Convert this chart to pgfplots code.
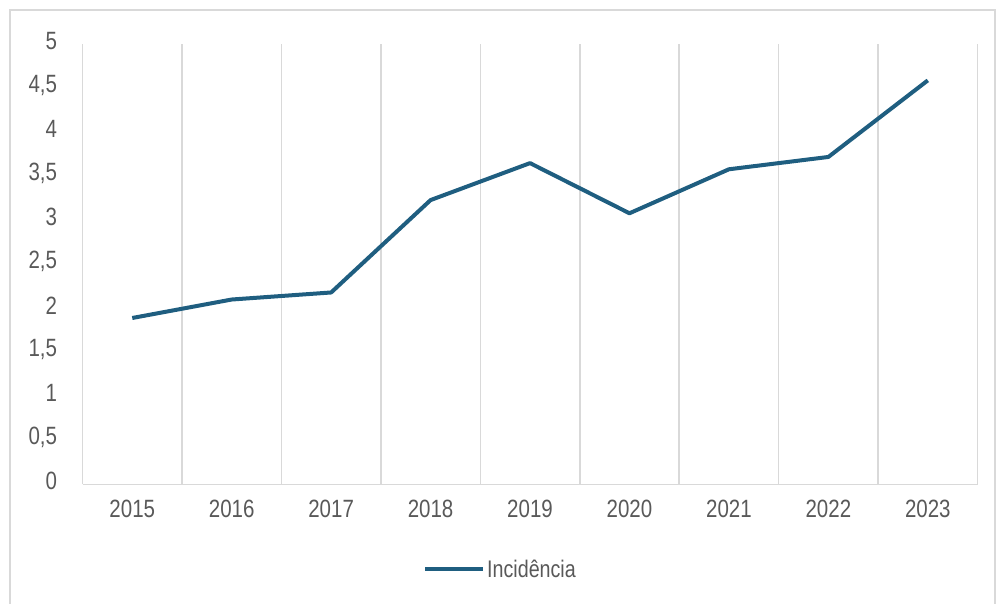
\documentclass[border=0pt]{standalone}
\usepackage{pgfplots}
\pgfplotsset{compat=1.18}
\usepackage{fontspec}
\setmainfont{Liberation Sans}[FakeStretch=0.82]
\definecolor{linec}{RGB}{31,94,128}
\definecolor{gridc}{RGB}{217,217,217}
\definecolor{textc}{RGB}{89,89,89}
\begin{document}
\begin{tikzpicture}[x=1pt,y=1pt]
\path[use as bounding box] (0,0) rectangle (997,604);
\draw[gridc, line width=1.5pt] (10,0) -- (10,594) -- (995,594) -- (995,0);
\begin{axis}[
  at={(83,136)}, anchor=south west,
  scale only axis, width=895pt, height=440pt,
  xmin=-0.5, xmax=8.5, ymin=0, ymax=5,
  xtick={0,...,8},
  xticklabels={2015,2016,2017,2018,2019,2020,2021,2022,2023},
  minor xtick={-0.5,0.5,...,8.5},
  minor x grid style={gridc, line width=1.5pt},
  xminorgrids=true,
  ytick={0,0.5,...,5},
  axis x line*=bottom, axis y line*=left,
  x axis line style={gridc, line width=1.5pt, -},
  y axis line style={draw=none},
  major tick length=0pt, minor tick length=0pt,
  tick style={draw=none},
  /pgf/number format/use comma,
  /pgf/number format/assume math mode=true,
  ticklabel style={font=\fontsize{25}{25}\selectfont, text=textc},
  yticklabel style={xshift=-22pt, yshift=3pt},
  xticklabel style={yshift=-12pt},
  legend style={at={(0.467,-0.193)}, anchor=center, draw=none, fill=none,
    font=\fontsize{24}{24}\selectfont, text=textc,
    legend cell align=left},
  legend image code/.code={\draw[line width=4pt, linec] (0pt,0pt) -- (58pt,0pt);},
]
\addplot[linec, line width=4pt, line join=round] coordinates {
(0,1.89) (1,2.10) (2,2.18) (3,3.23) (4,3.65) (5,3.08) (6,3.58) (7,3.72) (8,4.59)
};
\addlegendentry{Incidência}
\end{axis}
\end{tikzpicture}
\end{document}
